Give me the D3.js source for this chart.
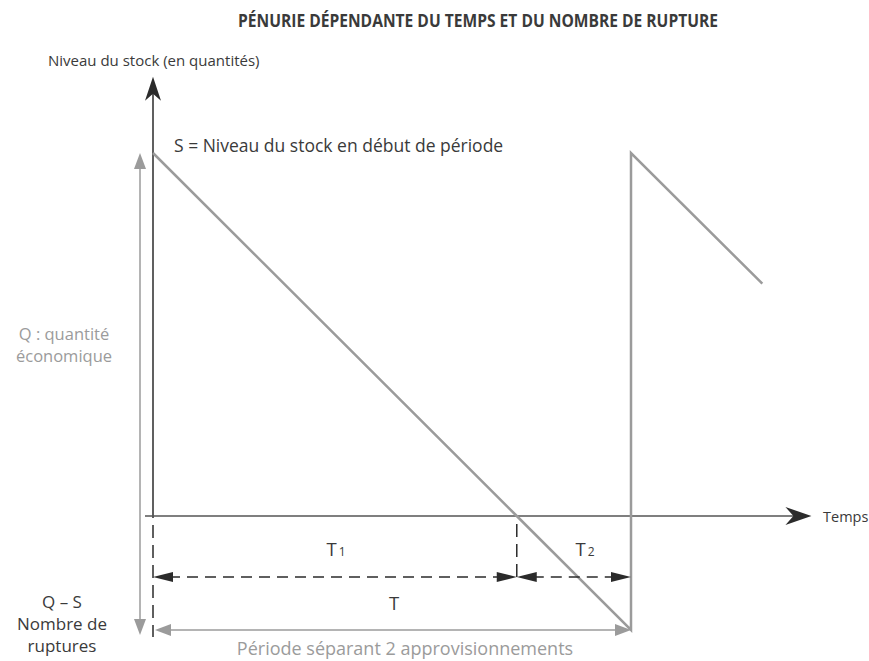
<!DOCTYPE html>
<html>
<head>
<meta charset="utf-8">
<script src="https://cdn.jsdelivr.net/npm/d3@7"></script>
<style>
  body { margin: 0; background: #fff; }
  text { font-family: "Open Sans", "Noto Sans", sans-serif; }
</style>
</head>
<body>
<div id="app"></div>
<script>
// chart values
const chartTitle = 'PÉNURIE DÉPENDANTE DU TEMPS ET DU NOMBRE DE RUPTURE';
const sawTime  = [0, 100, 131.4, 131.4, 167.5];   // time units
const sawStock = [100, 0, -31.4, 100, 64];         // stock units
const stockS = 100;          // S : stock at start of period
const shortQS = -31.4;       // Q - S : ruptures
const phaseBounds = [0, 100, 131.4];   // 0, T1, T1+T2
const phaseSubs = ['1', '2'];
const axisEnds = {tMin: -2.2, tMax: 181, sMax: 121};

let svgWidth = 869, svgHeight = 661;

let svg = d3.select('#app').append('svg')
    .attr('width', svgWidth)
    .attr('height', svgHeight);

let x = d3.scaleLinear().domain([0, 131.4]).range([153, 631]);
let y = d3.scaleLinear().domain([0, 100]).range([516, 153]);

let dark = '#2b2b2b', grey = '#9b9b9b', txt = '#3a3a3a';

        //arrow head helper: tip at (px,py), angle in degrees
function head(px, py, angle, len, half, notch, color) {
    svg.append('path')
        .attr('d', `M0,0 L${-len},${-half} L${-len + notch},0 L${-len},${half} Z`)
        .attr('transform', `translate(${px},${py}) rotate(${angle})`)
        .attr('fill', color);
}

        //title (condensed look through textLength)
svg.append('text')
    .attr('x', 718).attr('y', 27)
    .attr('text-anchor', 'end')
    .attr('font-size', 18).attr('font-weight', 700)
    .attr('textLength', 480).attr('lengthAdjust', 'spacingAndGlyphs')
    .attr('fill', txt)
    .text(chartTitle);

svg.append('text')
    .attr('x', 48).attr('y', 66)
    .attr('font-size', 15).attr('fill', txt)
    .text('Niveau du stock (en quantités)');

        //y axis (black)
svg.append('line')
    .attr('x1', x(0)).attr('x2', x(0))
    .attr('y1', y(0) + 2).attr('y2', y(axisEnds.sMax) + 10)
    .attr('stroke', dark).attr('stroke-width', 1.5);
head(x(0), y(axisEnds.sMax), -90, 24, 8, 7, dark);

        //dashed continuation below the axis
svg.append('line')
    .attr('x1', x(0)).attr('x2', x(0))
    .attr('y1', y(0) + 9).attr('y2', y(shortQS) + 7)
    .attr('stroke', dark).attr('stroke-width', 1.5)
    .attr('stroke-dasharray', '13,7');

        //x axis
svg.append('line')
    .attr('x1', x(axisEnds.tMin)).attr('x2', x(axisEnds.tMax) - 10)
    .attr('y1', y(0)).attr('y2', y(0))
    .attr('stroke', '#555').attr('stroke-width', 1.5);
head(x(axisEnds.tMax), y(0), 0, 26, 9, 8, dark);

svg.append('text')
    .attr('x', 823).attr('y', 522)
    .attr('font-size', 14.5).attr('fill', txt)
    .text('Temps');

        //sawtooth
svg.append('path')
    .datum(d3.zip(sawTime, sawStock))
    .attr('d', d3.line().x(d => x(d[0])).y(d => y(d[1])))
    .attr('fill', 'none')
    .attr('stroke', grey).attr('stroke-width', 2.5);

svg.append('text')
    .attr('x', 174).attr('y', 152)
    .attr('font-size', 17.5).attr('fill', txt)
    .text('S = Niveau du stock en début de période');

        //Q double arrow (grey, vertical)
let qx = x(0) - 13;
svg.append('line')
    .attr('x1', qx).attr('x2', qx)
    .attr('y1', y(stockS) + 10).attr('y2', y(shortQS) - 5)
    .attr('stroke', grey).attr('stroke-width', 1.5);
head(qx, y(stockS), -90, 16, 6, 0, grey);
head(qx, y(shortQS) + 5, 90, 16, 6, 0, grey);

let qText = svg.append('text')
    .attr('text-anchor', 'middle')
    .attr('font-size', 16.5).attr('fill', grey);
qText.append('tspan').attr('x', 64).attr('y', 340).text('Q : quantité');
qText.append('tspan').attr('x', 64).attr('y', 362).text('économique');

let qsText = svg.append('text')
    .attr('text-anchor', 'middle')
    .attr('font-size', 17).attr('fill', txt);
['Q – S', 'Nombre de', 'ruptures'].forEach((s, i) =>
    qsText.append('tspan').attr('x', 62).attr('y', 608 + i * 22).text(s));

        //dashed marker at T1
svg.append('line')
    .attr('x1', x(phaseBounds[1])).attr('x2', x(phaseBounds[1]))
    .attr('y1', y(0) + 8).attr('y2', 577)
    .attr('stroke', dark).attr('stroke-width', 1.5)
    .attr('stroke-dasharray', '13,7');

        //T1 and T2 dashed double arrows
let dashY = 577;
phaseSubs.forEach((sub, i) => {
    let a = x(phaseBounds[i]), b = x(phaseBounds[i + 1]);
    svg.append('line')
        .attr('x1', a + 16).attr('x2', b - 16)
        .attr('y1', dashY).attr('y2', dashY)
        .attr('stroke', dark).attr('stroke-width', 1.5)
        .attr('stroke-dasharray', '11,7');
    head(a, dashY, 180, 20, 5, 0, dark);
    head(b, dashY, 0, 20, 5, 0, dark);

    let t = svg.append('text')
        .attr('x', i === 0 ? 336 : 585).attr('y', 556)
        .attr('text-anchor', 'middle')
        .attr('font-size', 18.5).attr('fill', txt);
    t.append('tspan').text('T');
    t.append('tspan').attr('font-size', 12).attr('dx', 2).text(sub);
});

svg.append('text')
    .attr('x', (x(0) + x(phaseBounds[2])) / 2 + 2).attr('y', 610)
    .attr('text-anchor', 'middle')
    .attr('font-size', 18.5).attr('fill', txt)
    .text('T');

        //grey period arrow
let pY = y(shortQS);
svg.append('line')
    .attr('x1', x(0) + 10).attr('x2', x(phaseBounds[2]) - 10)
    .attr('y1', pY).attr('y2', pY)
    .attr('stroke', grey).attr('stroke-width', 1.5);
head(x(0) + 2, pY, 180, 16, 6, 0, grey);
head(x(phaseBounds[2]), pY, 0, 16, 6, 0, grey);

svg.append('text')
    .attr('x', 405).attr('y', 655)
    .attr('text-anchor', 'middle')
    .attr('font-size', 18).attr('fill', grey)
    .text('Période séparant 2 approvisionnements');
</script>
</body>
</html>
